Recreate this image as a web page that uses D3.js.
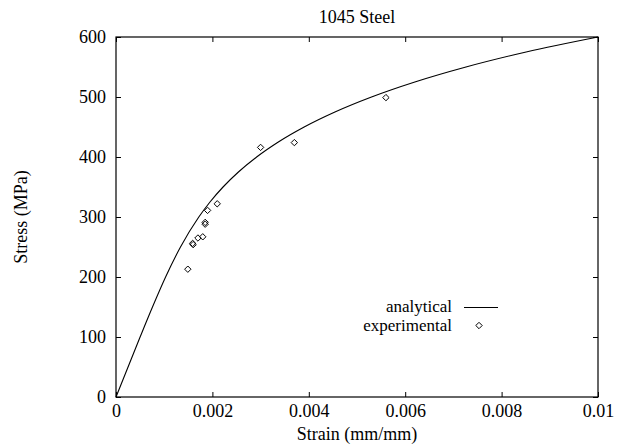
<!DOCTYPE html>
<html>
<head>
<meta charset="utf-8">
<script src="https://cdn.jsdelivr.net/npm/d3@7"></script>
<style>
  html, body { margin: 0; padding: 0; background: #fff; }
  svg { display: block; }
</style>
</head>
<body>
<svg id="chart" width="621" height="445"></svg>
<script>
// Analytical stress-strain curve (strain in mm/mm, stress in MPa)
const curveStrain = [0, 0.0005, 0.000757, 0.001029, 0.001338, 0.001718, 0.00195, 0.002221,
  0.00254, 0.002918, 0.003368, 0.003904, 0.004542, 0.005301, 0.0062, 0.007261, 0.008509, 0.01];
const curveStress = [0, 100, 150, 200, 250, 300, 325, 350,
  375, 400, 425, 450, 475, 500, 525, 550, 575, 600];

// Experimental measurements
const expStrain = [0.00149, 0.0016, 0.00159, 0.0017, 0.0018, 0.00185, 0.00185, 0.0019, 0.0021, 0.003, 0.0037, 0.0056];
const expStress = [213, 254, 256, 265, 267, 288, 291, 311, 322, 416, 424, 499];

// Axis ticks
const xTicks = [0, 0.002, 0.004, 0.006, 0.008, 0.01];
const xTickLabels = ["0", "0.002", "0.004", "0.006", "0.008", "0.01"];
const yTicks = [0, 100, 200, 300, 400, 500, 600];
const yTickLabels = ["0", "100", "200", "300", "400", "500", "600"];

const titleText = "1045 Steel";
const xLabel = "Strain (mm/mm)";
const yLabel = "Stress (MPa)";
const seriesNames = ["analytical", "experimental"];

const FONT = "'Liberation Serif', 'Times New Roman', Tinos, 'DejaVu Serif', serif";
const FS = 18;

const svg = d3.select("#chart");
const plot = { left: 116, right: 598, top: 37, bottom: 397 };
const tickLen = 5;

const x = d3.scaleLinear().domain([0, 0.01]).range([plot.left, plot.right]);
const y = d3.scaleLinear().domain([0, 600]).range([plot.bottom, plot.top]);

// Axes with inward ticks on all four sides
const xi = (v) => xTickLabels[xTicks.indexOf(v)] ?? "";
const yi = (v) => yTickLabels[yTicks.indexOf(v)] ?? "";

const gBottom = svg.append("g").attr("transform", `translate(0,${plot.bottom})`)
  .call(d3.axisBottom(x).tickValues(xTicks).tickFormat(xi).tickSizeInner(-tickLen).tickSizeOuter(0).tickPadding(7));
const gTop = svg.append("g").attr("transform", `translate(0,${plot.top})`)
  .call(d3.axisTop(x).tickValues(xTicks).tickFormat("").tickSizeInner(-tickLen).tickSizeOuter(0));
const gLeft = svg.append("g").attr("transform", `translate(${plot.left},0)`)
  .call(d3.axisLeft(y).tickValues(yTicks).tickFormat(yi).tickSizeInner(-tickLen).tickSizeOuter(0).tickPadding(10));
const gRight = svg.append("g").attr("transform", `translate(${plot.right},0)`)
  .call(d3.axisRight(y).tickValues(yTicks).tickFormat("").tickSizeInner(-tickLen).tickSizeOuter(0));

[gBottom, gTop, gLeft, gRight].forEach(g => {
  g.attr("font-family", FONT).attr("font-size", FS);
  g.select(".domain").remove();
  g.selectAll(".tick line").attr("stroke", "#000").attr("stroke-width", 1);
  g.selectAll(".tick text").attr("fill", "#000");
});

// Plot frame
svg.append("rect")
  .attr("x", plot.left).attr("y", plot.top)
  .attr("width", plot.right - plot.left).attr("height", plot.bottom - plot.top)
  .attr("fill", "none").attr("stroke", "#000").attr("stroke-width", 1.2);

// Analytical curve
const curveData = curveStrain.map((s, i) => [s, curveStress[i]]);
const line = d3.line().x(d => x(d[0])).y(d => y(d[1])).curve(d3.curveMonotoneX);
svg.append("path").datum(curveData)
  .attr("d", line).attr("fill", "none").attr("stroke", "#000").attr("stroke-width", 1.1);

// Experimental points as small diamonds
const diamond = d3.symbol().type(d3.symbolDiamond2).size(26);
svg.append("g").selectAll("path")
  .data(expStrain.map((s, i) => [s, expStress[i]]))
  .join("path")
  .attr("transform", d => `translate(${x(d[0])},${y(d[1])})`)
  .attr("d", diamond)
  .attr("fill", "none").attr("stroke", "#000").attr("stroke-width", 1);

// Titles
const labels = svg.append("g").attr("font-family", FONT).attr("font-size", FS).attr("fill", "#000");
labels.append("text").attr("x", (plot.left + plot.right) / 2).attr("y", 23)
  .attr("text-anchor", "middle").text(titleText);
labels.append("text").attr("x", (plot.left + plot.right) / 2).attr("y", 440)
  .attr("text-anchor", "middle").text(xLabel);
labels.append("text").attr("transform", `translate(27,${(plot.top + plot.bottom) / 2}) rotate(-90)`)
  .attr("text-anchor", "middle").text(yLabel);

// Legend
const legX = 452;
const legend = svg.append("g").attr("font-family", FONT).attr("font-size", 17).attr("fill", "#000");
legend.append("text").attr("x", legX).attr("y", 312)
  .attr("text-anchor", "end").text(seriesNames[0]);
legend.append("line").attr("x1", 464).attr("x2", 498).attr("y1", 307.5).attr("y2", 307.5)
  .attr("stroke", "#000").attr("stroke-width", 1.1);
legend.append("text").attr("x", legX).attr("y", 331)
  .attr("text-anchor", "end").text(seriesNames[1]);
legend.append("path").attr("transform", "translate(479,325.5)")
  .attr("d", diamond).attr("fill", "none").attr("stroke", "#000").attr("stroke-width", 1);
</script>
</body>
</html>
